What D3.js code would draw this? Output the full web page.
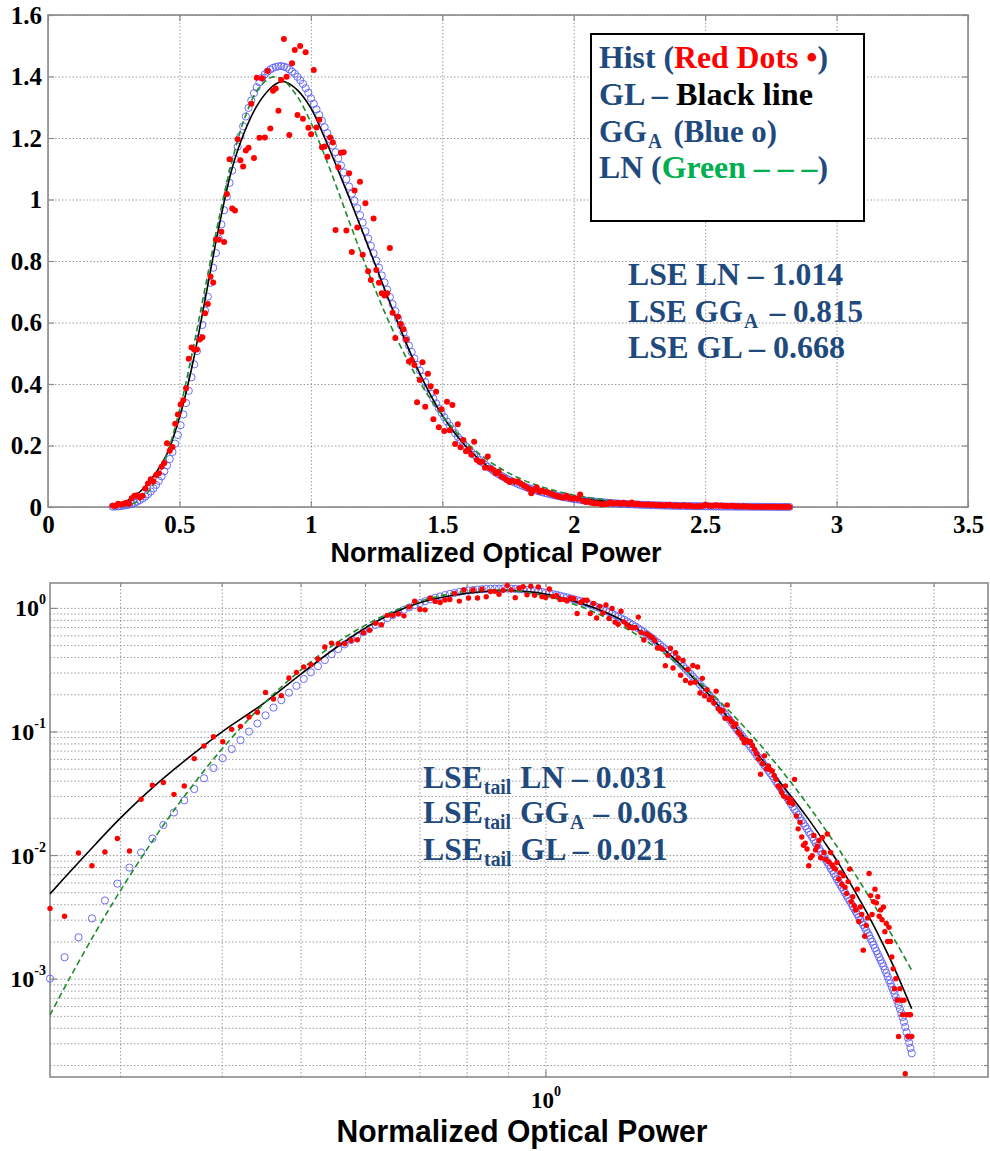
<!DOCTYPE html>
<html><head><meta charset="utf-8">
<script src="https://cdn.jsdelivr.net/npm/d3@7"></script>
<style>body{margin:0;background:#fff}</style>
</head><body>
<svg id="chart" width="990" height="1151"></svg>
<script>
// ---------------- data ----------------
const binStart = 0.246, binWidth = 0.01034;   // histogram bin centres
const histValues = [
.0037,.0032,.0104,.0082,.0106,.0136,.0108,.0283,.0367,.0386,
.031,.0362,.0603,.0762,.0906,.0826,.104,.110,.131,.143,
.207,.183,.195,.271,.301,.333,.347,.386,.482,.519,
.512,.512,.545,.552,.63,.66,.75,.73,.87,.87,
.895,.862,1.018,1.131,.971,.964,1.196,1.128,1.107,1.159,
1.168,1.311,1.135,1.396,1.201,1.394,1.202,1.418,1.231,1.354,
1.361,1.289,1.389,1.522,1.399,1.210,1.443,1.486,1.275,1.499,
1.263,1.479,1.233,1.212,1.421,1.234,1.259,1.170,1.172,1.139,
1.202,1.185,.901,1.105,1.152,1.154,.899,1.085,.829,1.029,
.909,1.058,.820,.988,.767,.738,.938,.771,.729,.695,
.688,.695,.842,.632,.550,.619,.595,.578,.545,.473,
.478,.462,.341,.413,.471,.326,.433,.393,.285,.375,
.259,.318,.247,.342,.250,.332,.205,.269,.194,.218,
.181,.188,.170,.212,.153,.146,.147,.128,.164,.126,
.120,.110,.115,.099,.095,.088,.081,.085,.082,.083,
.077,.0715,.066,.060,.0451,.055,.0635,.050,.0525,.049,
.048,.044,.041,.0363,.035,.0321,.030,.0363,.029,.0267,
.0282,.026,.041,.0207,.0163,.0184,.014,.012,.0125,.0112,
.0082,.0095,.0099,.0144,.011,.0118,.0131,.0095,.0139,.0105,
.0092,.0148,.0088,.0105,.0083,.0079,.0077,.0087,.0064,.0072,
.0058,.0068,.0055,.0049,.0061,.0077,.0042,.0046,.0039,.0036,
.0053,.0029,.0038,.0033,.0017,.0022,.0027,.0031,.0071,.0047,
.0033,.0042,.0053,.0041,.0046,.0032,.0036,.0030,.0038,.0024,
.0028,.0020,.0026,.0020,.0015,.0012,.00083,.0010,.00067,.00034,
.00083,.00067,.00051,.00067,.00017,.00051,.00034,.00051,.00051,.00034
];
const ggaValues = [
.00100,.00149,.00216,.00307,.00429,.00587,.00791,.0105,.0136,.0175,
.0221,.0277,.0342,.0418,.0506,.0607,.0721,.0851,.0998,.116,
.135,.156,.179,.206,.234,.266,.301,.338,.378,.422,
.464,.507,.550,.592,.639,.684,.729,.778,.826,.873,
.919,.965,1.009,1.054,1.094,1.132,1.172,1.206,1.238,1.270,
1.298,1.322,1.346,1.365,1.381,1.396,1.407,1.416,1.423,1.428,
1.431,1.433,1.434,1.432,1.429,1.423,1.416,1.409,1.399,1.388,
1.376,1.362,1.347,1.329,1.311,1.293,1.275,1.256,1.235,1.216,
1.196,1.175,1.154,1.134,1.111,1.088,1.066,1.042,1.019,.996,
.972,.949,.925,.897,.873,.849,.825,.801,.778,.753,
.730,.707,.683,.660,.637,.613,.591,.568,.546,.525,
.504,.483,.462,.444,.424,.406,.387,.369,.353,.337,
.321,.306,.292,.278,.265,.253,.240,.228,.218,.207,
.197,.187,.178,.170,.161,.153,.145,.138,.131,.125,
.118,.112,.1067,.1012,.0964,.0918,.0871,.0830,.0792,.0752,
.0716,.0682,.0647,.0617,.0589,.0558,.0532,.0507,.0481,.0459,
.0438,.0414,.0393,.0373,.0354,.0336,.0319,.0303,.0288,.0273,
.0259,.0246,.0234,.0222,.0211,.0200,.0190,.0180,.0171,.0163,
.0154,.0147,.0139,.0132,.0125,.0119,.0113,.0107,.0102,.00966,
.00918,.00871,.00828,.00785,.00746,.00708,.00673,.00638,.00607,.00575,
.00547,.00520,.00495,.00471,.00448,.00427,.00406,.00385,.00367,.00349,
.00332,.00316,.00301,.00286,.00272,.00259,.00246,.00234,.00223,.00210,
.00199,.00188,.00177,.00167,.00158,.00149,.00141,.00133,.00126,.00118,
.00111,.00104,.000973,.000914,.000857,.000804,.000753,.000706,.000661,.000612,
.000568,.000526,.000488,.000447,.000406,.000368,.000333,.000303,.000275,.000249
];
const fitX = [0.246,0.26,0.28,0.30,0.33,0.36,0.40,0.45,0.50,0.55,0.60,0.65,0.70,0.75,0.80,0.85,0.875,0.90,0.95,1.00,
  1.05,1.10,1.15,1.20,1.25,1.30,1.40,1.50,1.60,1.70,1.80,1.90,2.00,2.10,2.20,2.30,2.40,2.50,2.60,2.70,2.82];
const glValues = [.00485,.00726,.0123,.0198,.0358,.0578,.0989,.168,.29,.465,.685,.91,1.10,1.225,1.312,1.365,1.38,1.383,1.355,1.297,
  1.205,1.103,.997,.888,.777,.666,.460,.298,.188,.116,.073,.0465,.0305,.020,.0129,.0083,.0051,.00316,.0019,.00112,.00057];
const lnValues = [.000508,.001005,.00239,.00511,.01345,.0300,.0718,.1666,.3141,.5064,.7225,.9368,1.1249,1.2690,1.3602,1.3973,1.397,1.3853,1.3331,1.2509,
  1.1488,1.0358,.9191,.8049,.6965,.5965,.4267,.2973,.2030,.1366,.0908,.0599,.0393,.02565,.0167,.01087,.00707,.00459,.00299,.00195,.00117];

const topXTicks = [0,0.5,1,1.5,2,2.5,3,3.5];
const topYTicks = [0,0.2,0.4,0.6,0.8,1,1.2,1.4,1.6];
const logYMajor = [1e-3,1e-2,1e-1,1];
const logXMajor = [1];
const axisTitle = "Normalized Optical Power";

// ---------------- styles ----------------
const C = {blue:"#1f4a7d", red:"#ff0000", green:"#00b050", grid:"#9c9c9c", frame:"#8a8a8a",
           gga:"#5c5cf5", gl:"#000000", ln:"#1e8c2a"};
const serif = "'Liberation Serif','Times New Roman',serif";
const sans = "'Liberation Sans',Arial,sans-serif";

const svg = d3.select("#chart");
const hist = histValues.map((v,i)=>({x: binStart + i*binWidth, y: v}));
const gga = ggaValues.map((v,i)=>({x: binStart + i*binWidth, y: v}));
const gl = fitX.map((x,i)=>({x, y: glValues[i]}));
const ln = fitX.map((x,i)=>({x, y: lnValues[i]}));

function styleGrid(g){
  g.select(".domain").remove();
  g.selectAll("line").attr("stroke", C.grid).attr("stroke-width",1).attr("stroke-dasharray","1.5,2");
}
function styleTicks(g){
  g.select(".domain").remove();
  g.selectAll("line").attr("stroke", C.frame).attr("stroke-width",1.2);
  g.selectAll("text").attr("font-family", serif).attr("font-weight","bold").attr("font-size",25).attr("fill","#000");
}

function panel(x, y, L, T, R, B, opts){
  svg.append("g").attr("transform",`translate(0,${B})`)
    .call(d3.axisBottom(x).tickValues(opts.xGrid).tickSize(-(B-T)).tickFormat("")).call(styleGrid);
  svg.append("g").attr("transform",`translate(${L},0)`)
    .call(d3.axisLeft(y).tickValues(opts.yGrid).tickSize(-(R-L)).tickFormat("")).call(styleGrid);
  svg.append("rect").attr("x",L).attr("y",T).attr("width",R-L).attr("height",B-T)
    .attr("fill","none").attr("stroke",C.frame).attr("stroke-width",1.6);
  svg.append("g").attr("transform",`translate(0,${T})`)
    .call(d3.axisTop(x).tickValues(opts.xGrid).tickSize(-opts.tk).tickFormat("")).call(styleTicks);
  svg.append("g").attr("transform",`translate(${R},0)`)
    .call(d3.axisRight(y).tickValues(opts.yGrid).tickSize(-opts.tk).tickFormat("")).call(styleTicks);
}

// ================= TOP PANEL =================
const tL=48, tT=15, tR=968, tB=507;
const tx = d3.scaleLinear().domain([0,3.5]).range([tL,tR]);
const ty = d3.scaleLinear().domain([0,1.6]).range([tB,tT]);
panel(tx, ty, tL, tT, tR, tB, {xGrid: topXTicks, yGrid: topYTicks, tk:6});
svg.append("g").attr("transform",`translate(0,${tB})`)
  .call(d3.axisBottom(tx).tickValues(topXTicks).tickSize(-6).tickPadding(8).tickFormat(d=>String(d))).call(styleTicks);
svg.append("g").attr("transform",`translate(${tL},0)`)
  .call(d3.axisLeft(ty).tickValues(topYTicks).tickSize(-6).tickPadding(6).tickFormat(d=>String(d))).call(styleTicks);

function drawData(x, y, rDot, rCirc){
  const g = svg.append("g");
  g.selectAll("circle.gga").data(gga).join("circle").attr("class","gga")
    .attr("cx",d=>x(d.x)).attr("cy",d=>y(d.y)).attr("r",rCirc)
    .attr("fill","none").attr("stroke",C.gga).attr("stroke-width",0.9);
  const line = d3.line().x(d=>x(d.x)).y(d=>y(d.y)).curve(d3.curveCatmullRom.alpha(0.5));
  g.append("path").datum(gl).attr("d",line).attr("fill","none").attr("stroke",C.gl).attr("stroke-width",1.6);
  g.append("path").datum(ln).attr("d",line).attr("fill","none").attr("stroke",C.ln).attr("stroke-width",1.6)
    .attr("stroke-dasharray","6,3.5");
  g.selectAll("circle.hist").data(hist).join("circle").attr("class","hist")
    .attr("cx",d=>x(d.x)).attr("cy",d=>y(d.y)).attr("r",rDot).attr("fill",C.red);
}
drawData(tx, ty, 3, 3.6);

svg.append("text").attr("x",496).attr("y",562).attr("text-anchor","middle")
  .attr("font-family",sans).attr("font-weight","bold").attr("font-size",28)
  .attr("textLength",331).attr("lengthAdjust","spacingAndGlyphs").text(axisTitle);

// legend box
svg.append("rect").attr("x",591).attr("y",34).attr("width",273).attr("height",187)
  .attr("fill","#fff").attr("stroke","#000").attr("stroke-width",2);

// text with coloured / subscript runs
function richText(x, y, w, parts, size){
  const t = svg.append("text").attr("x",x).attr("y",y).attr("font-family",serif).attr("font-weight","bold")
    .attr("font-size",size||32).attr("textLength",w).attr("lengthAdjust","spacingAndGlyphs");
  parts.forEach(p=>{
    const s = t.append("tspan").attr("fill",p.c||C.blue).text(p.t);
    if(p.sub) s.attr("font-size",p.sub);
    if(p.dy) s.attr("dy",p.dy);
    if(p.dx) s.attr("dx",p.dx);
  });
  return t;
}
richText(599, 68, 229, [{t:"Hist ("},{t:"Red Dots •",c:C.red},{t:")"}]);
richText(599, 105, 214, [{t:"GL – "},{t:"Black line",c:"#000"}]);
richText(599, 142, 178, [{t:"GG"},{t:"A",sub:20,dy:6,dx:1},{t:" (Blue o)",dy:-6,dx:4}]);
richText(599, 178, 229, [{t:"LN ("},{t:"Green – – –",c:C.green},{t:")"}]);

richText(628, 285, 215, [{t:"LSE LN – 1.014"}]);
richText(628, 322, 235, [{t:"LSE GG"},{t:"A",sub:20,dy:6,dx:1},{t:" – 0.815",dy:-6,dx:4}]);
richText(628, 358, 217, [{t:"LSE GL – 0.668"}]);

// ================= BOTTOM PANEL =================
const bL=50, bT=583, bR=988, bB=1077;
const bx = d3.scaleLog().domain([0.246,3.5]).range([bL,bR]);
const by = d3.scaleLog().domain([1.6e-4,1.59]).range([bB,bT]);
panel(bx, by, bL, bT, bR, bB, {xGrid: bx.ticks(), yGrid: by.ticks(), tk:4});
const yAx = svg.append("g").attr("transform",`translate(${bL},0)`)
  .call(d3.axisLeft(by).tickValues(logYMajor).tickSize(-7).tickFormat("")).call(styleTicks);
yAx.selectAll(".tick").append("text").attr("x",-4).attr("y",8).attr("text-anchor","end")
  .attr("font-family",serif).attr("font-weight","bold").attr("font-size",24).attr("fill","#000")
  .each(function(d){
    const t = d3.select(this);
    t.append("tspan").text("10");
    t.append("tspan").attr("font-size",14).attr("dy",-12).text(String(Math.round(Math.log10(d))));
  });
const xAx = svg.append("g").attr("transform",`translate(0,${bB})`)
  .call(d3.axisBottom(bx).tickValues(logXMajor).tickSize(-7).tickFormat("")).call(styleTicks);
xAx.selectAll(".tick").append("text").attr("x",0).attr("y",31).attr("text-anchor","middle")
  .attr("font-family",serif).attr("font-weight","bold").attr("font-size",23).attr("fill","#000")
  .each(function(d){
    const t = d3.select(this);
    t.append("tspan").text("10");
    t.append("tspan").attr("font-size",14).attr("dy",-12).text(String(Math.round(Math.log10(d))));
  });

drawData(bx, by, 2.7, 3.6);

svg.append("text").attr("x",522).attr("y",1142).attr("text-anchor","middle")
  .attr("font-family",sans).attr("font-weight","bold").attr("font-size",32)
  .attr("textLength",371).attr("lengthAdjust","spacingAndGlyphs").text(axisTitle);

richText(423, 788, 244, [{t:"LSE"},{t:"tail",sub:20,dy:6,dx:1},{t:" LN – 0.031",dy:-6,dx:1}]);
richText(423, 823, 265, [{t:"LSE"},{t:"tail",sub:20,dy:6,dx:1},{t:" GG",dy:-6,dx:1},{t:"A",sub:20,dy:6,dx:1},{t:" – 0.063",dy:-6,dx:1}]);
richText(423, 860, 245, [{t:"LSE"},{t:"tail",sub:20,dy:6,dx:1},{t:" GL – 0.021",dy:-6,dx:1}]);
</script>
</body></html>
